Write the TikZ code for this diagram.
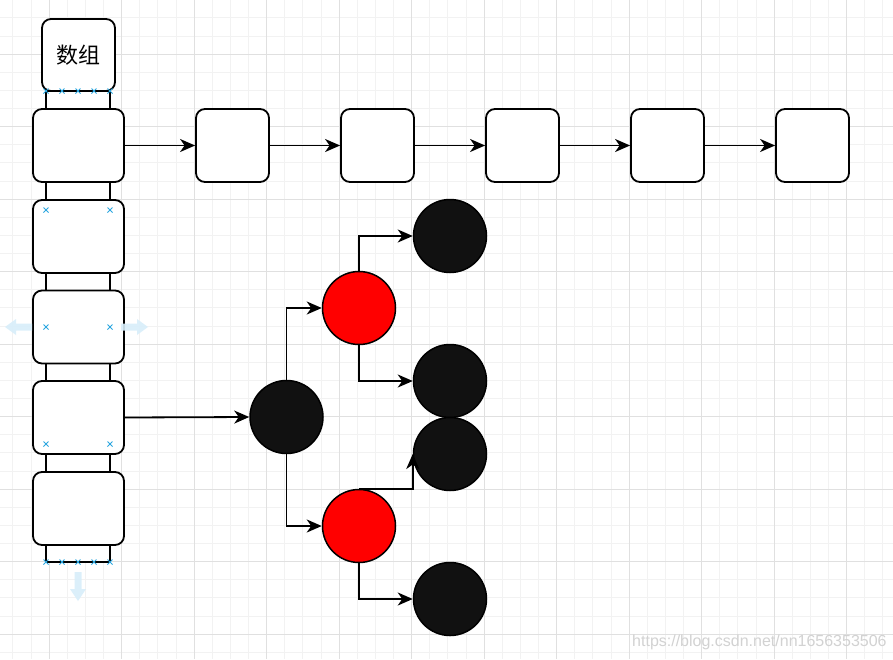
\documentclass[tikz,border=0pt]{standalone}
\usepackage{fontspec}
\setmainfont{Liberation Sans}
\newfontfamily\cjk{Noto Sans CJK SC}
\usetikzlibrary{arrows.meta}
\definecolor{gridminor}{HTML}{F2F2F2}
\definecolor{gridmajor}{HTML}{E0E0E0}
\definecolor{nodeblack}{HTML}{111111}
\definecolor{handle}{HTML}{2AA6E0}
\definecolor{hint}{HTML}{D8EEFA}
\definecolor{mark}{HTML}{D2D2D2}

\begin{document}
\begin{tikzpicture}[x=1pt,y=-1pt,
  box/.style={draw, line width=1.8pt, rounded corners=9pt, fill=white, inner sep=0pt},
  cell/.style={box, minimum width=91pt, minimum height=73pt},
  item/.style={box, minimum width=73pt, minimum height=73pt},
  ball/.style={circle, draw, line width=1.5pt, minimum size=73pt, inner sep=0pt},
  link/.style={-{Stealth[length=15pt,width=13pt,inset=4.5pt]}, line width=1.8pt},
  cross/.style={handle, line width=0.8pt},
  hintarrow/.style={fill=hint, draw=none, opacity=0.9}]

\useasboundingbox (0,0) rectangle (893,659);
\fill[white] (0,0) rectangle (893,659);

% background grid
\begin{scope}
  \clip (0,0) rectangle (893,659);
  \foreach \i in {0,...,49} \draw[gridminor, line width=0.7pt] ({12.75+18.125*\i},0) -- ++(0,659);
  \foreach \i in {0,...,35} \draw[gridminor, line width=0.7pt] (0,{17.75+18.125*\i}) -- ++(893,0);
  \foreach \i in {0,...,11} \draw[gridmajor, line width=1pt] ({49+72.5*\i},0) -- ++(0,659);
  \foreach \i in {0,...,8} \draw[gridmajor, line width=1pt] (0,{54+72.5*\i}) -- ++(893,0);
\end{scope}

% array spine behind the cells
\coordinate (spineA) at (46,91);
\coordinate (spineB) at (110,562);
\draw[line width=1.8pt, fill=white] (spineA) rectangle (spineB);

% array label and cells
\node[box, minimum width=73pt, minimum height=72pt, font=\cjk\fontsize{22}{26}\selectfont] (label) at (78.5,55) {数组};
\node[cell] (c1) at (78.5,145.5) {};
\node[cell] (c2) at (78.5,236.5) {};
\node[cell] (c3) at (78.5,327) {};
\node[cell] (c4) at (78.5,417.5) {};
\node[cell] (c5) at (78.5,508.5) {};

% linked list
\node[item] (l1) at (232.5,145.5) {};
\node[item] (l2) at (377.5,145.5) {};
\node[item] (l3) at (522.5,145.5) {};
\node[item] (l4) at (667.5,145.5) {};
\node[item] (l5) at (812.5,145.5) {};
\draw[link] (c1.east) -- (l1.west);
\draw[link] (l1.east) -- (l2.west);
\draw[link] (l2.east) -- (l3.west);
\draw[link] (l3.east) -- (l4.west);
\draw[link] (l4.east) -- (l5.west);

% red-black tree
\node[ball, fill=nodeblack] (t0) at (286.5,417) {};
\node[ball, fill=red] (r1) at (359,308) {};
\node[ball, fill=red] (r2) at (359,526) {};
\node[ball, fill=nodeblack] (b1) at (450,236) {};
\node[ball, fill=nodeblack] (b2) at (450,381) {};
\node[ball, fill=nodeblack] (b3) at (450,454) {};
\node[ball, fill=nodeblack] (b4) at (450,599) {};
\draw[link] (c4.east) -- (t0.west);
\draw[link] (t0.north) |- (r1.west);
\draw[link] (t0.south) |- (r2.west);
\draw[link] (r1.north) |- (b1.west);
\draw[link] (r1.south) |- (b2.west);
\draw[link] (r2.north) -| (b3.west);
\draw[link] (r2.south) |- (b4.west);

% selection handles
\foreach \x in {46,62,78,94,110} {
  \draw[cross] (\x,91) ++(-2.5,-2.5) -- ++(5,5) ++(-5,0) -- ++(5,-5);
  \draw[cross] (\x,562) ++(-2.5,-2.5) -- ++(5,5) ++(-5,0) -- ++(5,-5);
}
\foreach \y in {210,327,444} {
  \draw[cross] (46,\y) ++(-2.5,-2.5) -- ++(5,5) ++(-5,0) -- ++(5,-5);
  \draw[cross] (110,\y) ++(-2.5,-2.5) -- ++(5,5) ++(-5,0) -- ++(5,-5);
}
\fill[hintarrow] (5,327) -- (16,319) -- (16,323.5) -- (32,323.5) -- (32,330.5) -- (16,330.5) -- (16,335) -- cycle;
\fill[hintarrow] (148,327) -- (137,319) -- (137,323.5) -- (121,323.5) -- (121,330.5) -- (137,330.5) -- (137,335) -- cycle;
\fill[hintarrow] (78,601) -- (70,589) -- (74.5,589) -- (74.5,572) -- (81.5,572) -- (81.5,589) -- (86,589) -- cycle;

% watermark
\node[anchor=base west, inner sep=0pt, text=mark, font=\fontsize{16}{16}\selectfont] (wm) at (632,646) {https://blog.csdn.net/nn1656353506};
\end{tikzpicture}
\end{document}
